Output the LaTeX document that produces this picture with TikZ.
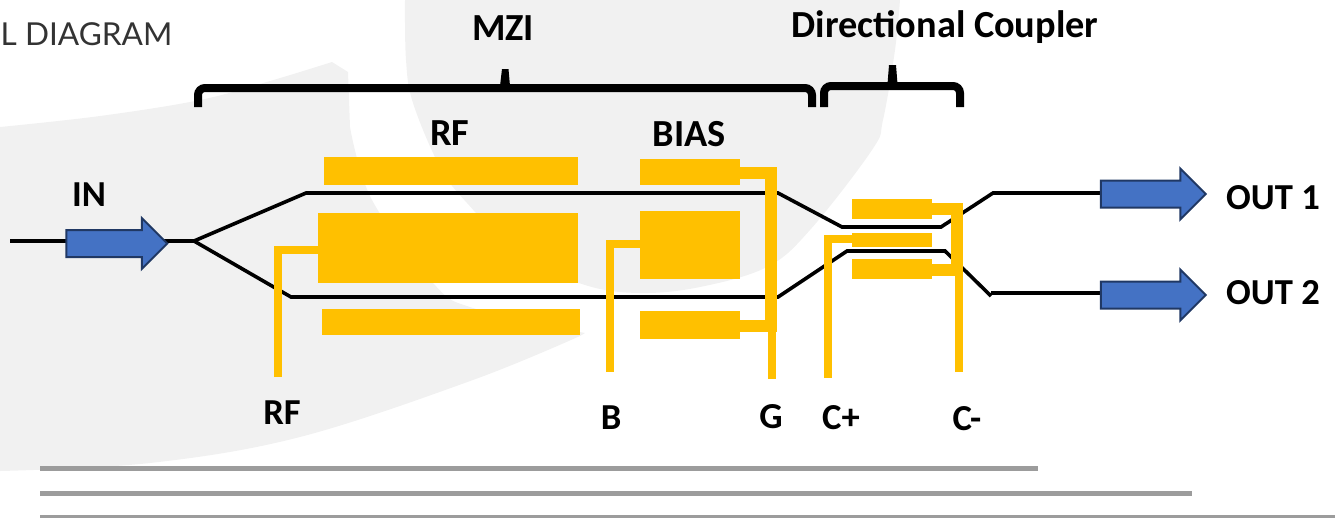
\documentclass[tikz,border=0pt]{standalone}
\usepackage{fontspec}
\setmainfont{Carlito}
\newfontfamily\titlefont{Lato}
\usetikzlibrary{shapes.arrows}
\definecolor{goldc}{HTML}{FFC000}
\definecolor{bgc}{HTML}{F1F1F1}
\definecolor{arrowfill}{HTML}{4472C4}
\definecolor{arrowedge}{HTML}{203864}
\definecolor{rulec}{HTML}{9C9C9C}
\tikzset{
  x=1pt,y=-1pt,
  wire/.style={line width=3.6pt,black,line join=miter},
  pad/.style={fill=goldc,inner sep=0pt,outer sep=0pt,minimum width=#1},
  trace/.style={draw=goldc,line width=8pt,line join=miter},
  gtrace/.style={draw=goldc,line width=12pt,line join=miter},
  lab/.style={font=\fontsize{36.6}{40}\bfseries\selectfont,inner sep=0pt,text=black},
  labw/.style={font=\fontsize{38.3}{42}\bfseries\selectfont,inner sep=0pt,text=black},
  brace/.style={draw=black,line width=8pt,rounded corners=7pt},
  tip/.style={fill=black},
  bigarrow/.style={single arrow,draw=arrowedge,fill=arrowfill,line width=2pt,inner sep=0pt,
     minimum width=49pt,single arrow head extend=12pt,single arrow head indent=0pt,
     shape border rotate=0,anchor=center},
  rulel/.style={draw=rulec,line width=#1},
}
\newcommand{\arrowbody}{\rule{0pt}{25pt}}
\begin{document}
\begin{tikzpicture}
\useasboundingbox (0,0) rectangle (1335,517);
\clip (0,0) rectangle (1335,517);
% background swooshes
\fill[bgc] plot[smooth,tension=.6] coordinates {(0,127) (100,116) (200,100) (270,81) (332,62)}
  -- (348,72) -- plot[smooth,tension=.6] coordinates {(350,127) (372,200) (433,283) (473,308) (585,333)}
  -- plot[smooth,tension=.6] coordinates {(580,336) (473,380) (300,437) (150,463) (0,471)} -- cycle;
\fill[bgc] plot[smooth,tension=.6] coordinates {(405,0) (406,60) (413,103) (440,167) (467,203) (520,255) (585,285) (640,293) (700,287) (767,267) (810,230) (872,150) (883,120) (895,50) (900,0)} -- cycle;
% rules
\draw[rulel=5pt] (40,468.5) -- (1038,468.5);
\draw[rulel=5pt] (40,493.5) -- (1192,493.5);
\draw[rulel=4pt] (40,516.5) -- (1335,516.5);
% title
\node[anchor=west,inner sep=0pt,text=black!80] (title) at (0.5,34) {\fontsize{31.6}{36}\titlefont\selectfont L DIAGRAM};
% waveguide points
\coordinate (instart) at (10,241);
\coordinate (split) at (194,241);
\coordinate (u1) at (306,193);
\coordinate (u2) at (778,193);
\coordinate (u3) at (842,227);
\coordinate (u4) at (941,227);
\coordinate (u5) at (993,193);
\coordinate (u6) at (1105,193);
\coordinate (l1) at (291,297);
\coordinate (l2) at (778,297);
\coordinate (l3) at (847,251);
\coordinate (l4) at (945,251);
\coordinate (l5) at (991,296);
\coordinate (l5b) at (991,293);
\coordinate (l6) at (1105,293);
\draw[wire] (instart) -- (split);
\draw[wire] (split) -- (u1) -- (u2) -- (u3) -- (u4) -- (u5) -- (u6);
\draw[wire] (split) -- (l1) -- (l2) -- (l3) -- (l4) -- (l5);
\draw[wire] (l5b) -- (l6);
% block arrows
\node[bigarrow,minimum height=101pt] (inarrow) at (110,243.5) {\arrowbody};
\node[bigarrow,minimum height=105pt] (outa) at (1146.5,194) {\arrowbody};
\node[bigarrow,minimum height=105pt] (outb) at (1146.5,295) {\arrowbody};
% electrodes
\node[pad=254pt,minimum height=28pt] (rftop) at (451,171) {};
\node[pad=260pt,minimum height=70pt] (rfmid) at (448,248) {};
\node[pad=258pt,minimum height=26pt] (rfbot) at (451,322) {};
\node[pad=100pt,minimum height=26pt] (btop) at (690,172) {};
\node[pad=100pt,minimum height=68pt] (bmid) at (690,245) {};
\node[pad=100pt,minimum height=28pt] (bbot) at (690,325) {};
\node[pad=80pt,minimum height=20pt] (ctop) at (892,209) {};
\node[pad=80pt,minimum height=14pt] (cmid) at (892,240) {};
\node[pad=80pt,minimum height=20pt] (cbot) at (892,269) {};
% lead ends
\coordinate (rfend) at (278,377);
\coordinate (bend) at (610,372);
\coordinate (gend) at (772,379);
\coordinate (cpend) at (828,378);
\coordinate (cmend) at (959,372);
% traces
\draw[trace] (rfend) -- (278,250) -- (rfmid.west |- 0,250);
\draw[trace] (bend) -- (610,244) -- (bmid.west |- 0,244);
\draw[gtrace] (btop.east |- 0,173) -- (771,173) -- (771,326) -- (bbot.east |- 0,326);
\draw[trace] (gend) -- (772,326);
\draw[trace] (cpend) -- (828,239) -- (cmid.west |- 0,239);
\draw[gtrace] (ctop.east |- 0,209) -- (957,209) -- (957,270) -- (cbot.east |- 0,270);
\draw[trace] (cmend) -- (959,270);
% braces
\draw[brace] (198,107) -- (198,88) -- (812,88) -- (812,107);
\fill[tip] (502,69) -- (508.5,69) -- (510,86) -- (500,86) -- cycle;
\draw[brace] (824,107) -- (824,86) -- (960,86) -- (960,107);
\fill[tip] (889,65) -- (896,65) -- (897.5,84) -- (887.5,84) -- cycle;
% labels
\node[labw] (lmzi) at (503,28) {MZI};
\node[labw] (ldc) at (945,27) {Directional Coupler};
\node[lab] (lin) at (89,195) {IN};
\node[labw] (lrf) at (450,133) {RF};
\node[labw] (lbias) at (689,134) {BIAS};
\node[lab] (lo1) at (1273,198) {OUT 1};
\node[lab] (lo2) at (1273,293) {OUT 2};
\node[lab] (lrfb) at (282,413) {RF};
\node[lab] (lb) at (611,418) {B};
\node[lab] (lg) at (771,417) {G};
\node[lab] (lcp) at (841,418) {C+};
\node[lab] (lcm) at (967,419) {C-};
\end{tikzpicture}
\end{document}
